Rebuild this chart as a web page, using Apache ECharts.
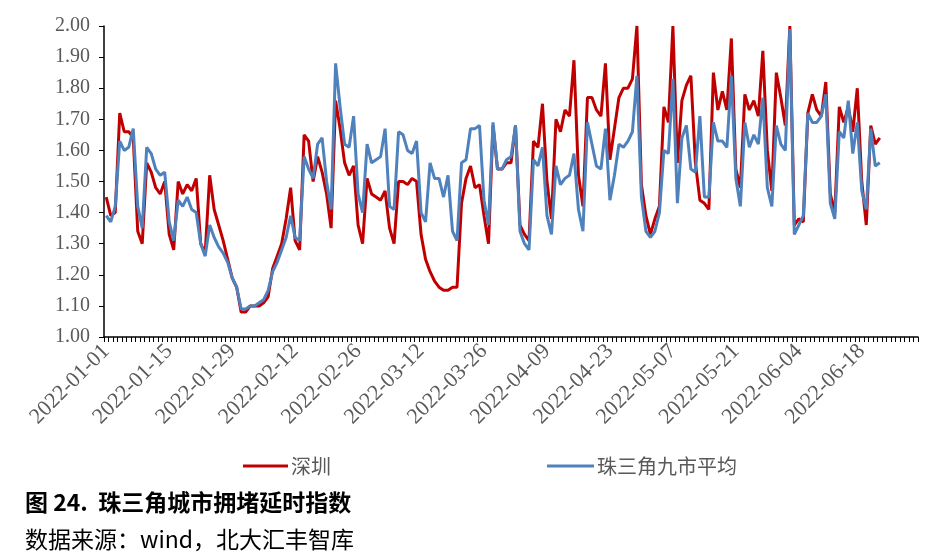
<!DOCTYPE html>
<html><head><meta charset="utf-8">
<script src="https://cdn.jsdelivr.net/npm/echarts@6/dist/echarts.min.js"></script>
<style>html,body{margin:0;padding:0;background:#fff}#c{width:935px;height:556px}</style>
</head><body><div id="c"></div>
<script>
// categories: daily dates 2022-01-01 .. 2022-06-30
const startDate = '2022-01-01';
const dayCount = 181;
const yTicks = [1.00, 1.10, 1.20, 1.30, 1.40, 1.50, 1.60, 1.70, 1.80, 1.90, 2.00];
const seriesNames = ['深圳', '珠三角九市平均'];
const shenzhen = [
1.45,1.39,1.40,1.72,1.66,1.66,1.64,1.34,1.30,1.56,1.53,1.48,1.46,1.50,1.33,1.28,1.50,1.46,1.49,1.47,
1.51,1.30,1.27,1.52,1.41,1.36,1.31,1.25,1.19,1.16,1.08,1.08,1.10,1.10,1.10,1.11,1.13,1.22,1.26,1.30,
1.38,1.48,1.31,1.28,1.65,1.63,1.50,1.58,1.53,1.46,1.35,1.76,1.67,1.56,1.52,1.55,1.36,1.30,1.51,1.46,
1.45,1.44,1.47,1.35,1.30,1.50,1.50,1.49,1.51,1.50,1.33,1.25,1.21,1.18,1.16,1.15,1.15,1.16,1.16,1.43,
1.51,1.55,1.48,1.49,1.39,1.30,1.68,1.54,1.54,1.56,1.56,1.68,1.36,1.33,1.31,1.63,1.61,1.75,1.50,1.38,
1.70,1.66,1.73,1.71,1.89,1.52,1.42,1.77,1.77,1.73,1.71,1.88,1.57,1.67,1.77,1.80,1.80,1.83,2.00,1.49,
1.39,1.33,1.38,1.42,1.74,1.69,2.00,1.56,1.76,1.81,1.84,1.56,1.44,1.43,1.41,1.85,1.73,1.79,1.73,1.96,
1.54,1.48,1.78,1.73,1.76,1.71,1.92,1.60,1.47,1.85,1.77,1.68,2.00,1.36,1.38,1.37,1.72,1.78,1.73,1.71,
1.82,1.46,1.40,1.74,1.69,1.74,1.66,1.80,1.50,1.36,1.68,1.62,1.64
];
const prdAverage = [
1.39,1.37,1.42,1.63,1.60,1.61,1.67,1.42,1.35,1.61,1.59,1.54,1.52,1.53,1.37,1.31,1.44,1.42,1.45,1.41,
1.40,1.30,1.26,1.36,1.32,1.29,1.27,1.24,1.19,1.16,1.09,1.09,1.10,1.10,1.11,1.12,1.15,1.21,1.24,1.28,
1.32,1.39,1.32,1.31,1.58,1.54,1.51,1.62,1.64,1.50,1.41,1.88,1.74,1.62,1.61,1.71,1.46,1.40,1.62,1.56,
1.57,1.58,1.67,1.42,1.41,1.66,1.65,1.60,1.59,1.63,1.40,1.37,1.56,1.51,1.51,1.45,1.52,1.34,1.31,1.56,
1.57,1.67,1.67,1.68,1.44,1.36,1.69,1.54,1.54,1.57,1.58,1.68,1.34,1.30,1.28,1.57,1.55,1.61,1.39,1.33,
1.55,1.49,1.51,1.52,1.59,1.41,1.34,1.69,1.62,1.55,1.54,1.67,1.44,1.52,1.62,1.61,1.63,1.66,1.84,1.45,
1.34,1.32,1.34,1.40,1.60,1.59,1.83,1.43,1.64,1.68,1.54,1.53,1.71,1.45,1.45,1.69,1.63,1.63,1.61,1.84,
1.51,1.42,1.69,1.61,1.65,1.62,1.77,1.48,1.42,1.68,1.62,1.60,1.99,1.33,1.36,1.39,1.72,1.69,1.69,1.71,
1.78,1.43,1.38,1.66,1.64,1.76,1.59,1.69,1.47,1.41,1.67,1.55,1.56
];

const categories = [];
(function(){
  const d0 = new Date(startDate + 'T00:00:00Z');
  for (let i = 0; i < dayCount; i++) {
    const d = new Date(d0.getTime() + i * 86400000);
    const m = String(d.getUTCMonth() + 1).padStart(2, '0');
    const dd = String(d.getUTCDate()).padStart(2, '0');
    categories.push(d.getUTCFullYear() + '-' + m + '-' + dd);
  }
})();

const chart = echarts.init(document.getElementById('c'));
const axisFont = 'Liberation Serif';
const cjk = 'Noto Sans CJK SC';
chart.setOption({
  animation: false,
  backgroundColor: '#ffffff',
  grid: { left: 104, right: 17, top: 26, bottom: 219, containLabel: false },
  xAxis: {
    type: 'category',
    data: categories,
    boundaryGap: true,
    axisLine: { lineStyle: { color: '#000', width: 1.5 } },
    axisTick: { show: true, interval: 0, length: 5, lineStyle: { color: '#000', width: 1 } },
    axisLabel: { interval: 13, rotate: 45, margin: 11, color: '#595959', fontSize: 22, fontFamily: axisFont },
    splitLine: { show: false }
  },
  yAxis: {
    type: 'value',
    min: yTicks[0], max: yTicks[yTicks.length - 1], interval: 0.1,
    axisLine: { show: true, lineStyle: { color: '#000', width: 1.5 } },
    axisTick: { show: true, length: 5, lineStyle: { color: '#000' } },
    axisLabel: { color: '#595959', fontSize: 20, fontFamily: axisFont, margin: 14,
      formatter: v => v.toFixed(2) },
    splitLine: { show: false }
  },
  legend: [
    { data: [seriesNames[0]], left: 238, top: 451, itemWidth: 45, itemHeight: 3, icon: 'rect', itemGap: 4,
      textStyle: { color: '#595959', fontSize: 20, fontFamily: cjk, padding: [0, 0, 0, -2] } },
    { data: [seriesNames[1]], left: 542, top: 451, itemWidth: 47, itemHeight: 3, icon: 'rect',
      textStyle: { color: '#595959', fontSize: 20, fontFamily: cjk, padding: [0, 0, 0, -2] } }
  ],
  title: [
    { text: '图 24.  珠三角城市拥堵延时指数', left: 20, top: 486,
      textStyle: { fontSize: 23, fontWeight: 'bold', color: '#000', fontFamily: cjk } },
    { text: '数据来源：wind，北大汇丰智库', left: 20, top: 523,
      textStyle: { fontSize: 23, fontWeight: 'normal', color: '#000', fontFamily: cjk } }
  ],
  series: [
    { name: seriesNames[0], type: 'line', data: shenzhen, showSymbol: false, symbol: 'none',
      lineStyle: { color: '#C00000', width: 3 }, itemStyle: { color: '#C00000' } },
    { name: seriesNames[1], type: 'line', data: prdAverage, showSymbol: false, symbol: 'none',
      lineStyle: { color: '#4F81BD', width: 3 }, itemStyle: { color: '#4F81BD' } }
  ]
});
</script></body></html>
